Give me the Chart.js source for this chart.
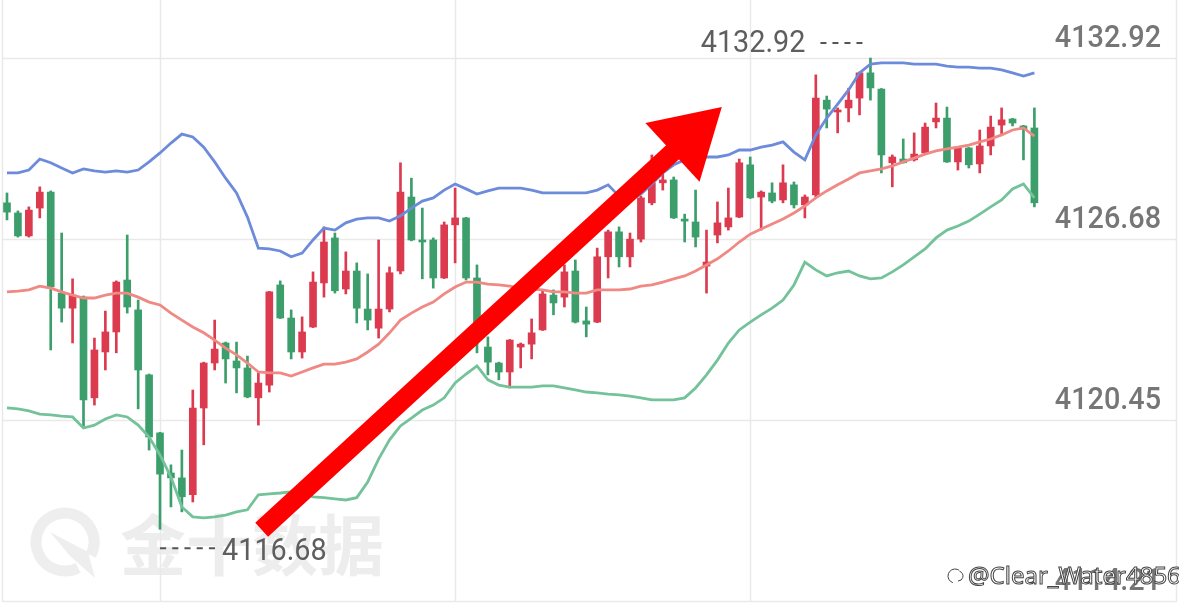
<!DOCTYPE html>
<html>
<head>
<meta charset="utf-8">
<script src="https://cdn.jsdelivr.net/npm/chart.js@4.4.1/dist/chart.umd.min.js"></script>
<style>
html,body{margin:0;padding:0;background:#fff;}
#wrap{width:1179px;height:614px;position:relative;}
</style>
</head>
<body>
<div id="wrap"><canvas id="canvas"></canvas></div>
<script>
// candles, one per bar (index 0..94)
const open=[
4127.93,4127.58,4126.79,4127.75,4128.30,4124.82,4124.30,4124.68,4121.21,4122.79,
4123.48,4125.27,4124.24,4122.00,4120.00,4118.62,4118.45,4117.87,4120.86,4122.41,
4123.10,4122.48,4122.24,4121.21,4121.65,4125.10,4123.96,4122.79,4123.65,4125.17,
4126.72,4124.96,4125.58,4124.27,4123.61,4124.27,4125.58,4128.13,4126.65,4126.65,
4125.34,4127.17,4127.41,4125.34,4122.96,4122.41,4122.10,4122.96,4123.06,4123.55,
4124.75,4124.68,4125.58,4123.86,4123.82,4126.07,4126.93,4126.07,4126.68,4127.93,
4128.62,4128.72,4127.37,4127.27,4125.75,4126.82,4127.10,4127.44,4129.24,4128.13,
4128.27,4128.03,4128.55,4127.86,4128.20,4131.47,4131.06,4131.20,4131.54,4132.41,
4131.85,4129.31,4129.44,4129.41,4129.65,4130.72,4130.85,4129.34,4129.82,4129.27,
4129.89,4130.61,4130.82,4130.58,4130.51];
const high=[
4128.27,4127.65,4127.79,4128.48,4128.34,4126.89,4125.31,4124.72,4123.27,4124.20,
4125.24,4126.82,4124.58,4122.03,4120.02,4118.90,4119.41,4121.48,4122.44,4123.89,
4123.13,4123.13,4122.65,4122.10,4124.88,4125.24,4124.24,4124.00,4125.55,4127.10,
4126.89,4126.24,4125.86,4125.48,4126.65,4125.72,4129.31,4128.78,4127.75,4126.72,
4127.27,4128.44,4127.43,4125.79,4123.31,4122.44,4123.22,4123.10,4123.93,4124.93,
4124.93,4125.79,4125.96,4124.34,4126.37,4126.99,4127.10,4126.89,4128.16,4129.58,
4129.13,4128.82,4127.54,4128.37,4126.99,4127.96,4128.44,4129.44,4129.51,4128.34,
4128.62,4129.24,4128.65,4128.20,4132.34,4131.61,4131.20,4131.88,4132.44,4132.92,
4131.87,4129.58,4130.13,4130.34,4130.68,4131.37,4131.23,4129.87,4129.84,4130.44,
4130.92,4131.20,4130.84,4130.60,4131.20];
const low=[
4127.34,4126.75,4126.75,4127.41,4122.86,4123.82,4123.10,4120.17,4120.96,4122.17,
4122.76,4124.13,4120.83,4119.41,4116.68,4117.45,4117.28,4117.62,4119.59,4122.17,
4121.72,4121.38,4121.21,4120.27,4121.41,4123.94,4122.55,4122.58,4123.63,4124.68,
4124.82,4124.79,4123.79,4123.55,4123.27,4124.17,4125.48,4126.62,4125.31,4124.99,
4125.32,4125.86,4125.27,4122.76,4122.00,4121.83,4121.55,4122.24,4122.55,4123.53,
4124.07,4124.34,4123.79,4123.31,4123.80,4125.34,4125.72,4125.72,4126.58,4127.86,
4128.37,4127.39,4126.58,4126.41,4124.82,4126.55,4126.99,4127.42,4128.08,4126.99,
4127.93,4127.93,4127.75,4127.41,4128.13,4130.51,4130.34,4130.72,4130.96,4131.47,
4128.96,4128.48,4129.30,4129.37,4129.63,4130.51,4129.32,4129.06,4129.13,4128.96,
4129.58,4130.30,4130.58,4129.41,4127.79];
const close=[
4127.61,4126.79,4127.68,4128.30,4125.03,4124.30,4124.75,4121.14,4122.86,4123.48,
4125.20,4124.34,4122.17,4119.86,4118.58,4118.45,4117.80,4120.86,4122.41,4122.89,
4122.55,4122.24,4121.24,4121.72,4124.86,4123.96,4122.79,4123.48,4125.20,4126.58,
4124.90,4125.58,4124.30,4123.89,4124.27,4125.52,4128.30,4126.65,4126.58,4125.34,
4127.17,4127.41,4125.34,4123.38,4122.44,4122.10,4123.20,4123.06,4123.45,4124.79,
4124.48,4125.55,4123.82,4123.75,4126.07,4126.93,4126.07,4126.68,4128.10,4128.62,
4128.72,4127.41,4127.30,4126.75,4125.89,4127.24,4127.41,4129.31,4128.10,4128.30,
4127.99,4128.62,4127.86,4128.13,4131.54,4131.16,4131.13,4131.47,4132.41,4131.89,
4129.58,4129.51,4129.31,4129.61,4130.54,4130.85,4129.34,4129.85,4129.24,4129.89,
4130.54,4130.79,4130.68,4130.47,4127.93];
// bollinger bands
const bollUp=[
4128.96,4128.96,4129.06,4129.44,4129.31,4129.13,4128.96,4129.10,4129.03,4128.99,
4129.03,4128.99,4129.06,4129.34,4129.65,4129.99,4130.30,4130.20,4129.85,4129.34,
4128.78,4128.27,4127.44,4126.37,4126.34,4126.27,4126.07,4126.20,4126.65,4127.06,
4126.99,4127.24,4127.37,4127.41,4127.41,4127.30,4127.48,4127.75,4127.99,4128.10,
4128.37,4128.58,4128.41,4128.23,4128.34,4128.44,4128.44,4128.44,4128.37,4128.27,
4128.27,4128.27,4128.27,4128.27,4128.37,4128.55,4128.16,4128.03,4128.23,4128.58,
4128.96,4129.24,4129.41,4129.47,4129.51,4129.51,4129.58,4129.75,4129.75,4129.85,
4129.92,4130.03,4129.68,4129.41,4130.27,4130.85,4131.33,4131.82,4132.41,4132.71,
4132.75,4132.75,4132.75,4132.71,4132.71,4132.71,4132.64,4132.61,4132.61,4132.57,
4132.57,4132.51,4132.41,4132.30,4132.41];
const bollMid=[
4124.86,4124.89,4124.93,4125.06,4124.99,4124.86,4124.75,4124.65,4124.65,4124.75,
4124.82,4124.82,4124.68,4124.51,4124.41,4124.13,4123.89,4123.65,4123.45,4123.20,
4122.92,4122.69,4122.41,4122.10,4122.07,4122.07,4121.96,4122.10,4122.24,4122.37,
4122.37,4122.44,4122.55,4122.79,4123.06,4123.45,4123.89,4124.13,4124.34,4124.51,
4124.79,4125.03,4125.20,4125.20,4125.13,4125.10,4125.06,4124.99,4124.96,4124.93,
4124.86,4124.86,4124.82,4124.82,4124.93,4124.93,4124.93,4124.96,4125.06,4125.10,
4125.20,4125.31,4125.41,4125.58,4125.79,4126.00,4126.27,4126.58,4126.85,4127.03,
4127.20,4127.37,4127.58,4127.82,4128.10,4128.34,4128.55,4128.75,4128.96,4129.03,
4129.10,4129.20,4129.34,4129.47,4129.61,4129.72,4129.79,4129.85,4129.92,4130.03,
4130.13,4130.27,4130.44,4130.51,4130.23];
const bollLow=[
4120.86,4120.83,4120.76,4120.65,4120.62,4120.58,4120.55,4120.17,4120.27,4120.48,
4120.62,4120.55,4120.27,4119.86,4119.24,4118.48,4117.45,4117.11,4117.07,4117.11,
4117.17,4117.28,4117.35,4117.87,4117.90,4117.93,4117.97,4117.97,4117.80,4117.77,
4117.73,4117.69,4117.77,4118.31,4119.10,4119.76,4120.24,4120.51,4120.79,4120.96,
4121.21,4121.72,4122.03,4122.31,4121.83,4121.65,4121.58,4121.58,4121.58,4121.62,
4121.62,4121.55,4121.48,4121.41,4121.38,4121.34,4121.31,4121.27,4121.21,4121.14,
4121.14,4121.14,4121.21,4121.55,4122.00,4122.51,4123.10,4123.55,4123.82,4124.07,
4124.30,4124.58,4125.10,4125.89,4125.62,4125.41,4125.52,4125.58,4125.41,4125.31,
4125.34,4125.55,4125.79,4126.07,4126.34,4126.72,4126.99,4127.13,4127.30,4127.54,
4127.79,4128.03,4128.41,4128.58,4128.10];
const yTicks=[4114.21,4120.45,4126.68,4132.92];
const gridIdx=[14,41,68];
// arrow drawn on top, in (index, price)
const arrowFrom=[23.3,4116.66];
const arrowTo=[65.4,4131.23];

const UP='#dc3a4f';
const DOWN='#3c9e6b';
const candleColor=open.map((o,i)=>close[i]>=o?UP:DOWN);
const wicks=open.map((o,i)=>({x:i,y:[low[i],high[i]]}));
const bodies=open.map((o,i)=>({x:i,y:[o,close[i]]}));
const toPts=arr=>arr.map((v,i)=>({x:i,y:v}));

function condensedText(ctx,txt,x,y,sx){
    ctx.save();
    ctx.translate(x,y);
    ctx.scale(sx,1);
    ctx.fillText(txt,0,0);
    ctx.restore();
}
function dashes(ctx,x0,x1,y,n){
    const seg=(x1-x0)/(n*2-1);
    ctx.beginPath();
    for(let k=0;k<n;k++){
        ctx.moveTo(x0+k*2*seg,y);
        ctx.lineTo(x0+k*2*seg+seg,y);
    }
    ctx.stroke();
}

const deco={
    id:'deco',
    beforeDatasetsDraw(chart){
        const {ctx,scales:{x,y}}=chart;
        ctx.save();
        // watermark
        ctx.strokeStyle='#eeeeee';
        ctx.lineWidth=11;
        ctx.beginPath();
        ctx.arc(65,542,29,Math.PI*0.35,Math.PI*2.15);
        ctx.stroke();
        ctx.fillStyle='#eeeeee';
        ctx.beginPath();
        ctx.moveTo(50,532);ctx.lineTo(88,552);ctx.lineTo(95,578);ctx.lineTo(70,556);
        ctx.closePath();ctx.fill();
        ctx.font='bold 66px "Noto Sans CJK SC"';
        ctx.fillStyle='#ededed';
        ctx.textAlign='left';
        ctx.textBaseline='alphabetic';
        ctx.fillText('金十数据',120,570);
        // grid
        const bottom=Math.round(y.getPixelForValue(yTicks[0]))+0.5;
        ctx.strokeStyle='#e9e9e9';
        ctx.lineWidth=1.5;
        ctx.beginPath();
        yTicks.forEach(v=>{
            const py=Math.round(y.getPixelForValue(v))+0.5;
            ctx.moveTo(2,py);ctx.lineTo(1177,py);
        });
        gridIdx.forEach(i=>{
            const px=Math.round(x.getPixelForValue(i))+0.5;
            ctx.moveTo(px,0);ctx.lineTo(px,bottom);
        });
        ctx.moveTo(2.5,0);ctx.lineTo(2.5,bottom);
        ctx.moveTo(1176.5,0);ctx.lineTo(1176.5,bottom);
        ctx.stroke();
        ctx.restore();
    },
    afterDatasetsDraw(chart){
        const {ctx,scales:{x,y}}=chart;
        ctx.save();
        // price labels on the right
        ctx.font='500 32px Roboto';
        ctx.fillStyle='#767676';
        ctx.textAlign='right';
        ctx.textBaseline='alphabetic';
        yTicks.forEach(v=>{
            condensedText(ctx,v.toFixed(2),1161,y.getPixelForValue(v)-11,0.9);
        });
        // max / min markers
        let hi=0,lo=0;
        high.forEach((v,i)=>{if(v>high[hi])hi=i;});
        low.forEach((v,i)=>{if(v<low[lo])lo=i;});
        ctx.strokeStyle='#555';
        ctx.lineWidth=2;
        ctx.fillStyle='#5e5e5e';
        ctx.font='400 32px Roboto';
        const hx=x.getPixelForValue(hi),hy=y.getPixelForValue(high[hi]);
        dashes(ctx,hx-50,hx-8,hy-15,4);
        ctx.textAlign='right';
        condensedText(ctx,high[hi].toFixed(2),hx-65,hy-6,0.9);
        const lx=x.getPixelForValue(lo),ly=y.getPixelForValue(low[lo]);
        dashes(ctx,lx,lx+55,ly+19,5);
        ctx.textAlign='left';
        condensedText(ctx,low[lo].toFixed(2),lx+62,ly+31,0.9);
        // red arrow
        const ax=x.getPixelForValue(arrowFrom[0]),ay=y.getPixelForValue(arrowFrom[1]);
        const tx=x.getPixelForValue(arrowTo[0]),ty=y.getPixelForValue(arrowTo[1]);
        const len=Math.hypot(tx-ax,ty-ay);
        const dx=(tx-ax)/len,dy=(ty-ay)/len;
        const bx=tx-dx*67,by=ty-dy*67;
        ctx.strokeStyle='#ff0000';
        ctx.fillStyle='#ff0000';
        ctx.lineWidth=19;
        ctx.lineCap='butt';
        ctx.beginPath();
        ctx.moveTo(ax,ay);ctx.lineTo(bx+dx*5,by+dy*5);
        ctx.stroke();
        ctx.beginPath();
        ctx.moveTo(tx,ty);
        ctx.lineTo(bx-dy*40,by+dx*40);
        ctx.lineTo(bx+dy*40,by-dx*40);
        ctx.closePath();
        ctx.fill();
        // credit
        ctx.font='24px "Noto Sans"';
        ctx.textAlign='left';
        ctx.lineWidth=1;
        ctx.strokeStyle='#444';
        ctx.fillStyle='#fff';
        ctx.fillText('@Clear_Water4856',968,584);
        ctx.strokeText('@Clear_Water4856',968,584);
        ctx.beginPath();
        ctx.arc(955,576,7,Math.PI*0.6,Math.PI*1.7);
        ctx.stroke();
        ctx.beginPath();
        ctx.arc(958,576,5,-Math.PI*0.4,Math.PI*0.5);
        ctx.stroke();
        ctx.restore();
    }
};

const lineDs=(label,arr,color,order)=>({
    type:'line',label:label,data:toPts(arr),borderColor:color,borderWidth:2.8,
    pointRadius:0,tension:0,fill:false,order:order
});

new Chart(document.getElementById('canvas'),{
    type:'bar',
    data:{
        datasets:[
            lineDs('UP',bollUp,'#6d8bdb',0),
            lineDs('MID',bollMid,'#f08883',0),
            lineDs('DN',bollLow,'#73c29a',0),
            {label:'body',data:bodies,backgroundColor:candleColor,borderWidth:0,
             barThickness:7,minBarLength:2,grouped:false,order:1},
            {label:'wick',data:wicks,backgroundColor:candleColor,borderWidth:0,
             barThickness:2,grouped:false,order:2}
        ]
    },
    options:{
        responsive:true,
        maintainAspectRatio:false,
        animation:false,
        devicePixelRatio:1,
        layout:{padding:0},
        events:[],
        plugins:{legend:{display:false},tooltip:{enabled:false}},
        scales:{
            x:{type:'linear',display:false,offset:false,min:-0.64,max:107.23},
            y:{display:false,min:4113.76,max:4134.92}
        }
    },
    plugins:[deco]
});
</script>
</body>
</html>
